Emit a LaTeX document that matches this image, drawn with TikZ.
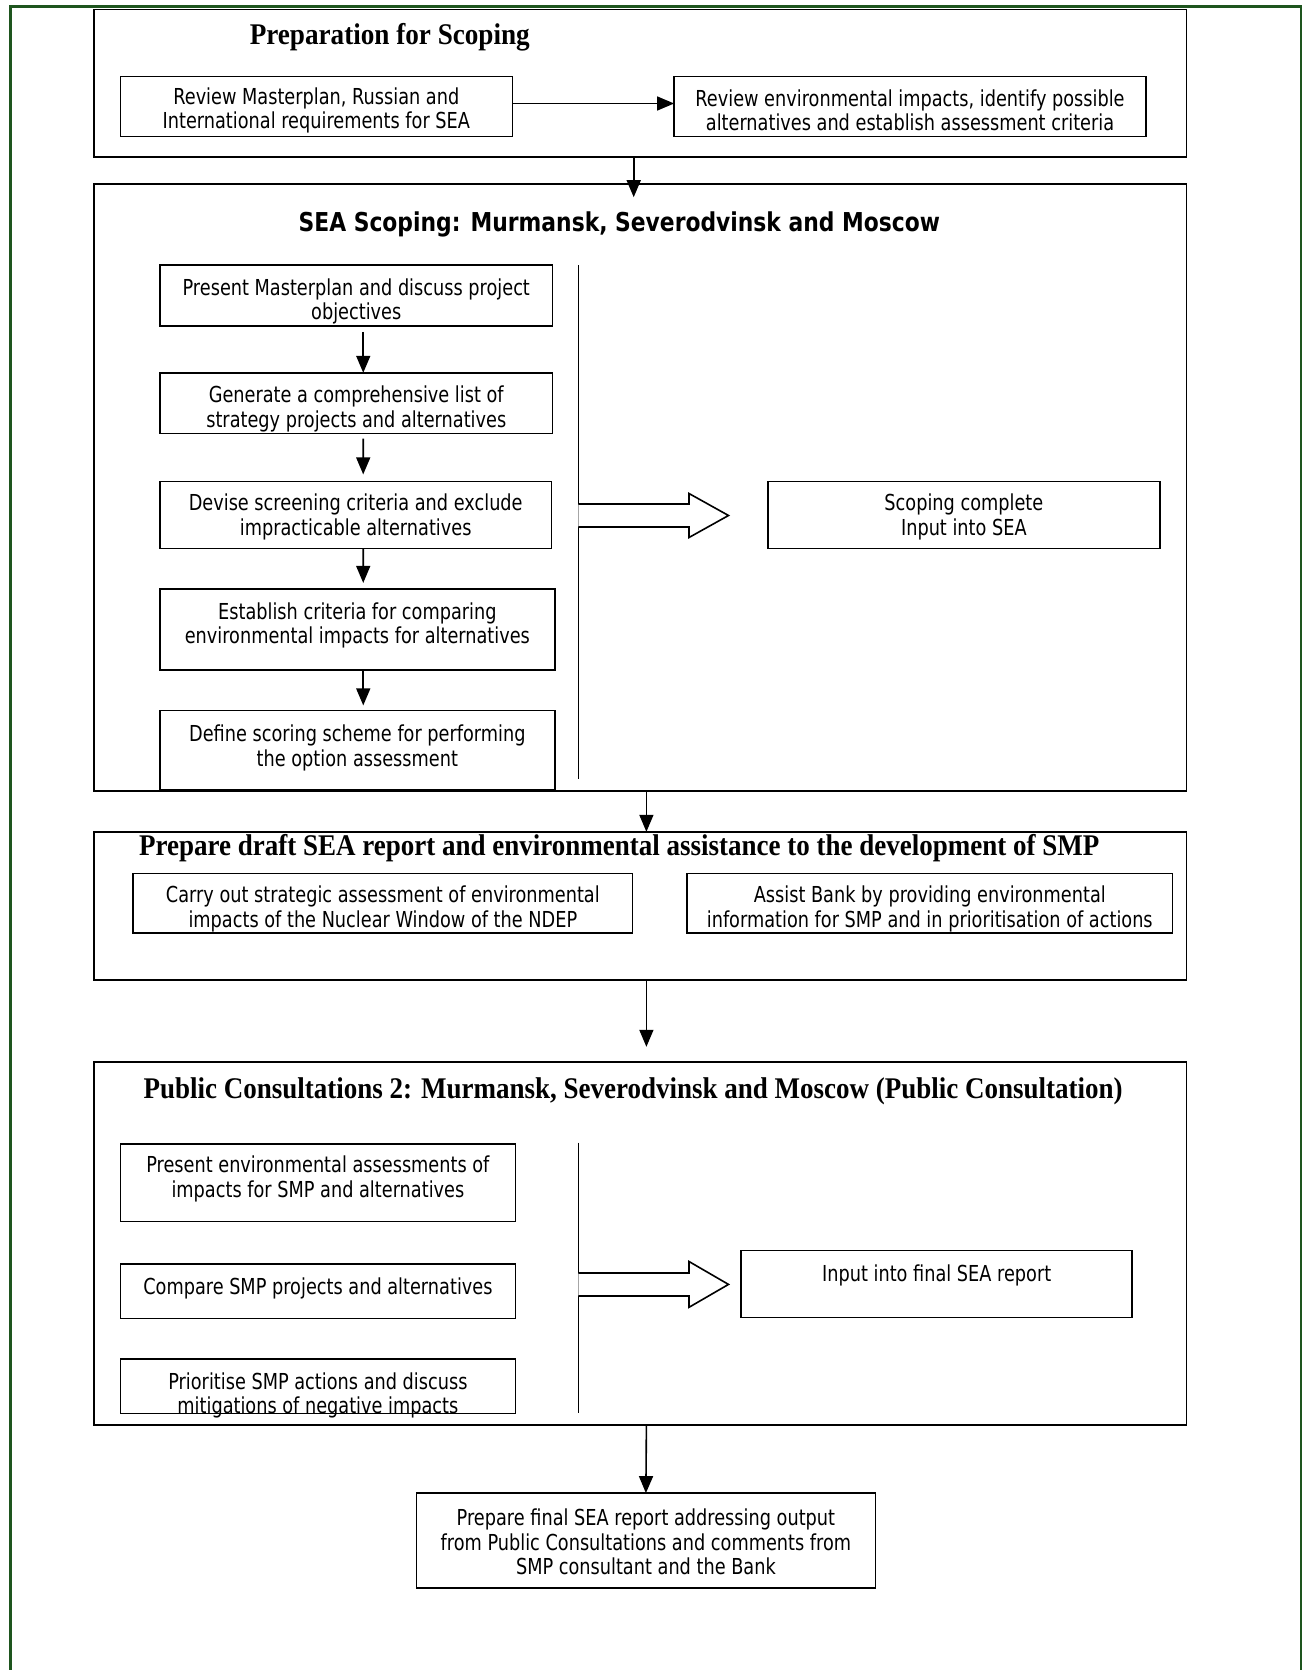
\documentclass[tikz,border=0pt]{standalone}
\usepackage{fontspec}
\setmainfont[FakeStretch=0.805]{DejaVu Sans}
\newfontfamily\titlesans[FakeStretch=0.84]{DejaVu Sans}
\newfontfamily\titleserifA[FakeStretch=0.905]{Liberation Serif}
\newfontfamily\titleserifB[FakeStretch=0.9]{Liberation Serif}
\usetikzlibrary{arrows.meta}
\definecolor{framegreen}{RGB}{30,85,30}
\begin{document}
\begin{tikzpicture}[x=1pt,y=-1pt,
  outerbox/.style={draw, line width=1.8pt, inner sep=0pt, outer sep=0pt, minimum width=1092.7pt},
  subbox/.style={draw, line width=1.5pt, inner sep=0pt, outer sep=0pt},
  txt/.style={align=center, inner sep=0pt, yshift=-2.7pt, font=\fontsize{22}{24.5}\selectfont},
  serifhead/.style={inner sep=0pt, yshift=-2.5pt, font=\fontsize{30}{32}\selectfont\bfseries},
  sanshead/.style={inner sep=0pt, yshift=-2.5pt, font=\titlesans\fontsize{26}{30}\selectfont\bfseries},
  arr/.style={line width=1.6pt, -{Triangle[length=17pt,width=14pt]}},
  blockarrow/.style={draw, line width=1.6pt, fill=white, line join=miter},
  divider/.style={line width=1.6pt},
]
\useasboundingbox (0,0) rectangle (1311,1670);
% green frame
\draw[framegreen, line width=2.5pt] (10.6,1670) -- (10.6,6.4) -- (1301,6.4) -- (1301,1670);

% ---------- Box 1 ----------
\node[outerbox, minimum height=147pt] (box1) at (640.05,83.1) {};
\node[serifhead, font=\titleserifA\fontsize{30}{32}\selectfont\bfseries] (t1) at (389.8,35.1) {Preparation for Scoping};
\node[subbox, minimum width=392pt, minimum height=59.6pt] (a) at (316.3,106.5) {};
\node[txt] (at) at (316.3,107.5) {Review Masterplan, Russian and\\International requirements for SEA};
\node[subbox, minimum width=471.8pt, minimum height=59.6pt] (b) at (910,106.5) {};
\node[txt] (bt) at (910,107.5) {Review environmental impacts, identify possible\\alternatives and establish assessment criteria};
\draw[arr] ([yshift=3pt]a.east) -- ([yshift=3pt]b.west);

% ---------- Box 2 ----------
\node[outerbox, minimum height=607.1pt] (box2) at (640.05,487.75) {};
\draw[arr, shorten >=-13pt] ([xshift=-6.35pt]box1.south) -- ([xshift=-6.35pt]box2.north);
\node[sanshead] (t2) at (619.3,221.5) {SEA Scoping: Murmansk, Severodvinsk and Moscow};
\node[subbox, minimum width=392.9pt, minimum height=60.7pt] (s1) at (356.25,295.55) {};
\node[txt] (s1t) at (356.25,298.7) {Present Masterplan and discuss project\\objectives};
\node[subbox, minimum width=392.9pt, minimum height=60.7pt] (s2) at (356.25,403.15) {};
\node[txt] (s2t) at (356.25,406.3) {Generate a comprehensive list of\\strategy projects and alternatives};
\node[subbox, minimum width=391.8pt, minimum height=67.1pt] (s3) at (355.7,514.95) {};
\node[txt] (s3t) at (355.7,514.4) {Devise screening criteria and exclude\\impracticable alternatives};
\node[subbox, minimum width=395.1pt, minimum height=81pt] (s4) at (357.35,629.4) {};
\node[txt] (s4t) at (357.35,622.5) {Establish criteria for comparing\\environmental impacts for alternatives};
\node[subbox, minimum width=395.1pt, minimum height=79.8pt] (s5) at (357.35,750.3) {};
\node[txt] (s5t) at (357.35,745) {Define scoring scheme for performing\\the option assessment};
\draw[arr, shorten <=6pt] ([xshift=7pt]s1.south) -- ([xshift=7pt]s2.north);
\draw[arr, shorten <=5pt, shorten >=7pt] ([xshift=7pt]s2.south) -- ([xshift=7.5pt]s3.north);
\draw[arr, shorten >=6pt] ([xshift=7.5pt]s3.south) -- ([xshift=5.9pt]s4.north);
\draw[arr, shorten >=5pt] ([xshift=5.9pt]s4.south) -- ([xshift=5.9pt]s5.north);
\coordinate (d1top) at (578.3,265.2);
\coordinate (d1bot) at (578.3,778.5);
\draw[divider] (d1top) -- (d1bot);
\draw[blockarrow] (578.3,504) -- (689,504) -- (689,493.5) -- (728.5,515.5) -- (689,537.5) -- (689,527) -- (578.3,527);
\node[subbox, minimum width=391.9pt, minimum height=67.1pt] (sc) at (963.85,514.95) {};
\node[txt] (sct) at (963.85,514.4) {Scoping complete\\Input into SEA};

% ---------- Box 3 ----------
\node[outerbox, minimum height=148pt] (box3) at (640.05,905.8) {};
\draw[arr] ([xshift=6.35pt]box2.south) -- ([xshift=6.35pt]box3.north);
\node[serifhead, font=\titleserifB\fontsize{30}{32}\selectfont\bfseries] (t3) at (619.3,845.5) {Prepare draft SEA report and environmental assistance to the development of SMP};
\node[subbox, minimum width=499.5pt, minimum height=59.7pt] (c1) at (382.85,903.15) {};
\node[txt] (c1t) at (382.85,906.3) {Carry out strategic assessment of environmental\\impacts of the Nuclear Window of the NDEP};
\node[subbox, minimum width=485.7pt, minimum height=59.7pt] (c2) at (929.75,903.15) {};
\node[txt] (c2t) at (929.75,906.3) {Assist Bank by providing environmental\\information for SMP and in prioritisation of actions};

% ---------- Box 4 ----------
\node[outerbox, minimum height=363.1pt] (box4) at (640.05,1243.35) {};
\draw[arr, shorten >=15pt] ([xshift=6.35pt]box3.south) -- ([xshift=6.35pt]box4.north);
\node[serifhead, font=\titleserifB\fontsize{30}{32}\selectfont\bfseries] (t4) at (633.1,1088.5) {Public Consultations 2: Murmansk, Severodvinsk and Moscow (Public Consultation)};
\node[subbox, minimum width=395.2pt, minimum height=77.8pt] (p1) at (317.9,1182.7) {};
\node[txt] (p1t) at (317.9,1176.3) {Present environmental assessments of\\impacts for SMP and alternatives};
\node[subbox, minimum width=395.2pt, minimum height=54.3pt] (p2) at (317.9,1291.35) {};
\node[txt] (p2t) at (317.9,1285.5) {Compare SMP projects and alternatives};
\node[subbox, minimum width=395.2pt, minimum height=54.4pt] (p3) at (317.9,1386.1) {};
\node[txt] (p3t) at (317.9,1392.5) {Prioritise SMP actions and discuss\\mitigations of negative impacts};
\coordinate (d2top) at (578.3,1142.7);
\coordinate (d2bot) at (578.3,1413.3);
\draw[divider] (d2top) -- (d2bot);
\draw[blockarrow] (578.3,1273) -- (689,1273) -- (689,1261.5) -- (728.5,1284.4) -- (689,1307.3) -- (689,1296) -- (578.3,1296);
\node[subbox, minimum width=390.9pt, minimum height=67.1pt] (if) at (936.65,1283.85) {};
\node[txt] (ift) at (936.65,1272.7) {Input into final SEA report};

% ---------- Final ----------
\node[subbox, minimum width=459pt, minimum height=94.8pt] (fin) at (645.9,1540.5) {};
\node[txt] (fint) at (645.9,1539.5) {Prepare final SEA report addressing output\\from Public Consultations and comments from\\SMP consultant and the Bank};
\draw[arr] ([xshift=6.35pt]box4.south) -- (fin.north);
\end{tikzpicture}
\end{document}
